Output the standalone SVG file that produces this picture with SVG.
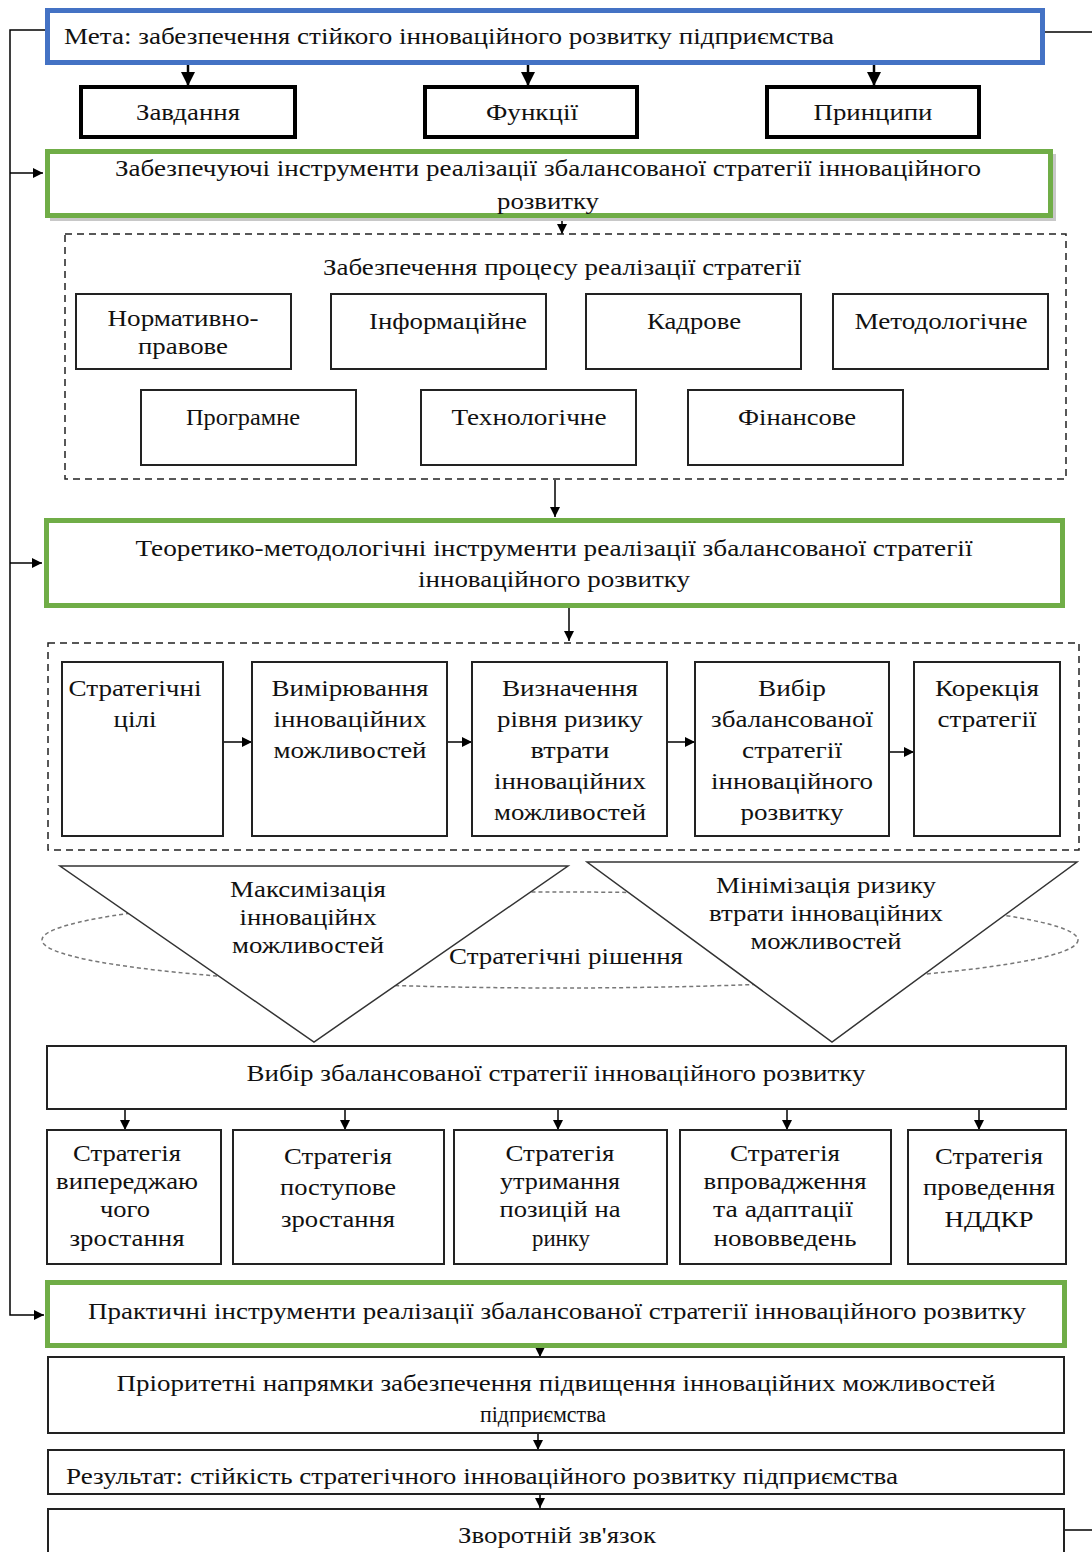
<svg xmlns="http://www.w3.org/2000/svg" width="1092" height="1552" viewBox="0 0 1092 1552">
<defs>
<marker id="ah" viewBox="0 0 10 10" refX="10" refY="5" markerWidth="10" markerHeight="10" markerUnits="userSpaceOnUse" orient="auto">
<path d="M0,0 L10,5 L0,10 z" fill="#000"/>
</marker>
<marker id="ahb" viewBox="0 0 10 10" refX="10" refY="5" markerWidth="14" markerHeight="14" markerUnits="userSpaceOnUse" orient="auto">
<path d="M0,0 L10,5 L0,10 z" fill="#000"/>
</marker>
</defs>
<style>
text{font-family:"Liberation Serif","Times New Roman",serif;font-size:24px;fill:#111;text-anchor:middle}
.l{text-anchor:start}
.box{fill:#fff;stroke:#222;stroke-width:2}
.thick{fill:#fff;stroke:#000;stroke-width:4}
.blue{fill:#fff;stroke:#4472C4;stroke-width:5}
.green{fill:#fff;stroke:#70AD47;stroke-width:5}
.shadow{fill:#c8c8c8}
.dash{fill:none;stroke:#222;stroke-width:1.5;stroke-dasharray:7 5}
.ell{fill:none;stroke:#777;stroke-width:1.5;stroke-dasharray:4 3}
.tri{fill:#fff;stroke:#333;stroke-width:1.5}
.c{fill:none;stroke:#000;stroke-width:1.5}
.cb{fill:none;stroke:#000;stroke-width:2.5}
</style>

<g id="connectors">
<path class="c" d="M46,30 H10 V1315 H44" marker-end="url(#ah)"/>
<path class="c" d="M10,173 H43" marker-end="url(#ah)"/>
<path class="c" d="M10,563 H42" marker-end="url(#ah)"/>
<path class="c" d="M1045,32 H1092"/>
<path class="c" d="M1065,1530 H1092"/>
<path class="cb" d="M188,65 V86" marker-end="url(#ahb)"/>
<path class="cb" d="M528,65 V86" marker-end="url(#ahb)"/>
<path class="cb" d="M874,65 V86" marker-end="url(#ahb)"/>
<path class="c" d="M562,218 V234" marker-end="url(#ah)"/>
<path class="c" d="M555,480 V517" marker-end="url(#ah)"/>
<path class="c" d="M569,608 V641" marker-end="url(#ah)"/>
<path class="c" d="M223,742 H252" marker-end="url(#ah)"/>
<path class="c" d="M447,742 H472" marker-end="url(#ah)"/>
<path class="c" d="M667,742 H695" marker-end="url(#ah)"/>
<path class="c" d="M889,752 H914" marker-end="url(#ah)"/>
<path class="c" d="M125,1109 V1130" marker-end="url(#ah)"/>
<path class="c" d="M345,1109 V1130" marker-end="url(#ah)"/>
<path class="c" d="M558,1109 V1130" marker-end="url(#ah)"/>
<path class="c" d="M787,1109 V1130" marker-end="url(#ah)"/>
<path class="c" d="M979,1109 V1130" marker-end="url(#ah)"/>
<path class="c" d="M540,1348 V1357" marker-end="url(#ah)"/>
<path class="c" d="M538,1433 V1450" marker-end="url(#ah)"/>
<path class="c" d="M540,1494 V1508" marker-end="url(#ah)"/>
</g>

<g id="goal">
<rect class="blue" x="47.5" y="10.5" width="995" height="52"/>
<text class="l" x="64" y="44" textLength="770" lengthAdjust="spacingAndGlyphs">Мета: забезпечення стійкого інноваційного розвитку підприємства</text>
</g>
<g id="tasks">
<rect class="thick" x="81" y="87" width="214" height="50"/>
<text x="188" y="120" textLength="104" lengthAdjust="spacingAndGlyphs">Завдання</text>
</g>
<g id="functions">
<rect class="thick" x="425" y="87" width="212" height="50"/>
<text x="532" y="120" textLength="92" lengthAdjust="spacingAndGlyphs">Функції</text>
</g>
<g id="principles">
<rect class="thick" x="767" y="87" width="212" height="50"/>
<text x="873" y="120" textLength="119" lengthAdjust="spacingAndGlyphs">Принципи</text>
</g>

<g id="supporting-tools">
<rect class="shadow" x="50" y="154" width="1006" height="67"/>
<rect class="green" x="47.5" y="151.5" width="1003" height="64"/>
<text x="548" y="176" textLength="866" lengthAdjust="spacingAndGlyphs">Забезпечуючі інструменти реалізації збалансованої стратегії інноваційного</text>
<text x="548" y="209" textLength="102" lengthAdjust="spacingAndGlyphs">розвитку</text>
</g>

<g id="support-process">
<rect class="dash" x="65" y="234" width="1001" height="245"/>
<text x="562" y="275" textLength="478" lengthAdjust="spacingAndGlyphs">Забезпечення процесу реалізації стратегії</text>
</g>
<g id="s-normative">
<rect class="box" x="76" y="294" width="215" height="75"/>
<text x="183" y="326" textLength="151" lengthAdjust="spacingAndGlyphs">Нормативно-</text>
<text x="183" y="354" textLength="90" lengthAdjust="spacingAndGlyphs">правове</text>
</g>
<g id="s-info">
<rect class="box" x="331" y="294" width="215" height="75"/>
<text x="448" y="329" textLength="158" lengthAdjust="spacingAndGlyphs">Інформаційне</text>
</g>
<g id="s-personnel">
<rect class="box" x="586" y="294" width="215" height="75"/>
<text x="694" y="329" textLength="94" lengthAdjust="spacingAndGlyphs">Кадрове</text>
</g>
<g id="s-method">
<rect class="box" x="833" y="294" width="215" height="75"/>
<text x="941" y="329" textLength="173" lengthAdjust="spacingAndGlyphs">Методологічне</text>
</g>
<g id="s-program">
<rect class="box" x="141" y="390" width="215" height="75"/>
<text x="243" y="425" textLength="114" lengthAdjust="spacingAndGlyphs">Програмне</text>
</g>
<g id="s-tech">
<rect class="box" x="421" y="390" width="215" height="75"/>
<text x="529" y="425" textLength="155" lengthAdjust="spacingAndGlyphs">Технологічне</text>
</g>
<g id="s-finance">
<rect class="box" x="688" y="390" width="215" height="75"/>
<text x="797" y="425" textLength="118" lengthAdjust="spacingAndGlyphs">Фінансове</text>
</g>

<g id="theory-tools">
<rect class="green" x="46.5" y="520.5" width="1016" height="85"/>
<text x="554" y="556" textLength="837" lengthAdjust="spacingAndGlyphs">Теоретико-методологічні інструменти  реалізації збалансованої стратегії</text>
<text x="554" y="587" textLength="272" lengthAdjust="spacingAndGlyphs">інноваційного розвитку</text>
</g>

<g id="process-stages">
<rect class="dash" x="48" y="643" width="1031" height="207"/>
</g>
<g id="st-goals">
<rect class="box" x="62" y="662" width="161" height="174"/>
<text x="135" y="696" textLength="133" lengthAdjust="spacingAndGlyphs">Стратегічні</text>
<text x="135" y="727" textLength="43" lengthAdjust="spacingAndGlyphs">цілі</text>
</g>
<g id="st-measure">
<rect class="box" x="252" y="662" width="195" height="174"/>
<text x="350" y="696" textLength="157" lengthAdjust="spacingAndGlyphs">Вимірювання</text>
<text x="350" y="727" textLength="153" lengthAdjust="spacingAndGlyphs">інноваційних</text>
<text x="350" y="758" textLength="153" lengthAdjust="spacingAndGlyphs">можливостей</text>
</g>
<g id="st-risk">
<rect class="box" x="472" y="662" width="195" height="174"/>
<text x="570" y="696" textLength="136" lengthAdjust="spacingAndGlyphs">Визначення</text>
<text x="570" y="727" textLength="146" lengthAdjust="spacingAndGlyphs">рівня ризику</text>
<text x="570" y="758" textLength="79" lengthAdjust="spacingAndGlyphs">втрати</text>
<text x="570" y="789" textLength="152" lengthAdjust="spacingAndGlyphs">інноваційних</text>
<text x="570" y="820" textLength="152" lengthAdjust="spacingAndGlyphs">можливостей</text>
</g>
<g id="st-choice">
<rect class="box" x="695" y="662" width="194" height="174"/>
<text x="792" y="696" textLength="68" lengthAdjust="spacingAndGlyphs">Вибір</text>
<text x="792" y="727" textLength="162" lengthAdjust="spacingAndGlyphs">збалансованої</text>
<text x="792" y="758" textLength="100" lengthAdjust="spacingAndGlyphs">стратегії</text>
<text x="792" y="789" textLength="162" lengthAdjust="spacingAndGlyphs">інноваційного</text>
<text x="792" y="820" textLength="103" lengthAdjust="spacingAndGlyphs">розвитку</text>
</g>
<g id="st-correct">
<rect class="box" x="914" y="662" width="146" height="174"/>
<text x="987" y="696" textLength="104" lengthAdjust="spacingAndGlyphs">Корекція</text>
<text x="987" y="727" textLength="99" lengthAdjust="spacingAndGlyphs">стратегії</text>
</g>

<g id="strategic-decisions">
<ellipse class="ell" cx="560" cy="940" rx="518" ry="48"/>
<text x="566" y="964" textLength="234" lengthAdjust="spacingAndGlyphs">Стратегічні рішення</text>
</g>
<g id="maximize">
<polygon class="tri" points="60,866 568,866 314,1042"/>
<text x="308" y="897" textLength="156" lengthAdjust="spacingAndGlyphs">Максимізація</text>
<text x="308" y="925" textLength="137" lengthAdjust="spacingAndGlyphs">інноваційнх</text>
<text x="308" y="953" textLength="152" lengthAdjust="spacingAndGlyphs">можливостей</text>
</g>
<g id="minimize">
<polygon class="tri" points="587,862 1077,862 832,1042"/>
<text x="826" y="893" textLength="220" lengthAdjust="spacingAndGlyphs">Мінімізація ризику</text>
<text x="826" y="921" textLength="234" lengthAdjust="spacingAndGlyphs">втрати інноваційних</text>
<text x="826" y="949" textLength="151" lengthAdjust="spacingAndGlyphs">можливостей</text>
</g>

<g id="choice">
<rect class="box" x="47" y="1046" width="1019" height="63"/>
<text x="556" y="1081" textLength="619" lengthAdjust="spacingAndGlyphs">Вибір збалансованої стратегії інноваційного розвитку</text>
</g>
<g id="str-advance">
<rect class="box" x="47" y="1130" width="174" height="134"/>
<text x="127" y="1161" textLength="108" lengthAdjust="spacingAndGlyphs">Стратегія</text>
<text x="127" y="1189" textLength="142" lengthAdjust="spacingAndGlyphs">випереджаю</text>
<text x="125" y="1217" textLength="50" lengthAdjust="spacingAndGlyphs">чого</text>
<text x="127" y="1246" textLength="115" lengthAdjust="spacingAndGlyphs">зростання</text>
</g>
<g id="str-gradual">
<rect class="box" x="233" y="1130" width="211" height="134"/>
<text x="338" y="1164" textLength="108" lengthAdjust="spacingAndGlyphs">Стратегія</text>
<text x="338" y="1195" textLength="116" lengthAdjust="spacingAndGlyphs">поступове</text>
<text x="338" y="1227" textLength="114" lengthAdjust="spacingAndGlyphs">зростання</text>
</g>
<g id="str-hold">
<rect class="box" x="454" y="1130" width="213" height="134"/>
<text x="560" y="1161" textLength="109" lengthAdjust="spacingAndGlyphs">Стратегія</text>
<text x="560" y="1189" textLength="120" lengthAdjust="spacingAndGlyphs">утримання</text>
<text x="560" y="1217" textLength="121" lengthAdjust="spacingAndGlyphs">позицій на</text>
<text x="561" y="1246" textLength="58" lengthAdjust="spacingAndGlyphs">ринку</text>
</g>
<g id="str-implement">
<rect class="box" x="680" y="1130" width="211" height="134"/>
<text x="785" y="1161" textLength="110" lengthAdjust="spacingAndGlyphs">Стратегія</text>
<text x="785" y="1189" textLength="163" lengthAdjust="spacingAndGlyphs">впровадження</text>
<text x="783" y="1217" textLength="140" lengthAdjust="spacingAndGlyphs">та адаптації</text>
<text x="785" y="1246" textLength="143" lengthAdjust="spacingAndGlyphs">нововведень</text>
</g>
<g id="str-rnd">
<rect class="box" x="908" y="1130" width="158" height="134"/>
<text x="989" y="1164" textLength="108" lengthAdjust="spacingAndGlyphs">Стратегія</text>
<text x="989" y="1195" textLength="132" lengthAdjust="spacingAndGlyphs">проведення</text>
<text x="989" y="1227" textLength="89" lengthAdjust="spacingAndGlyphs">НДДКР</text>
</g>

<g id="practical-tools">
<rect class="green" x="47.5" y="1282.5" width="1017" height="63"/>
<text x="557" y="1319" textLength="938" lengthAdjust="spacingAndGlyphs">Практичні інструменти реалізації збалансованої стратегії інноваційного розвитку</text>
</g>
<g id="priorities">
<rect class="box" x="48" y="1357" width="1016" height="76"/>
<text x="556" y="1391" textLength="879" lengthAdjust="spacingAndGlyphs">Пріоритетні напрямки забезпечення підвищення інноваційних можливостей</text>
<text x="543" y="1422" textLength="126" lengthAdjust="spacingAndGlyphs">підприємства</text>
</g>
<g id="result">
<rect class="box" x="48" y="1450" width="1016" height="44"/>
<text class="l" x="66" y="1484" textLength="832" lengthAdjust="spacingAndGlyphs">Результат: стійкість стратегічного інноваційного розвитку підприємства</text>
</g>
<g id="feedback">
<rect class="box" x="48" y="1509" width="1016" height="60"/>
<text x="557" y="1543" textLength="198" lengthAdjust="spacingAndGlyphs">Зворотній зв'язок</text>
</g>
</svg>
